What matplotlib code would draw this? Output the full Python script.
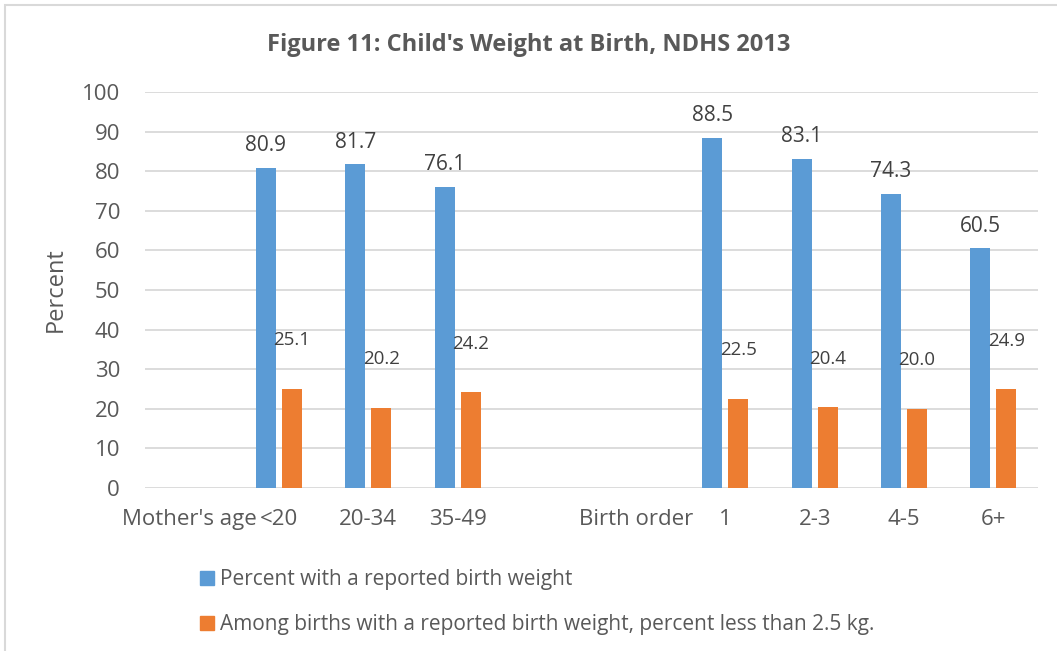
import matplotlib.pyplot as plt
import matplotlib.patches as mpatches
import numpy as np

# datos
categorias = ["Mother's age", "<20", "20-34", "35-49", "", "Birth order", "1", "2-3", "4-5", "6+"]
con_peso   = [np.nan, 80.9, 81.7, 76.1, np.nan, np.nan, 88.5, 83.1, 74.3, 60.5]
bajo_peso  = [np.nan, 25.1, 20.2, 24.2, np.nan, np.nan, 22.5, 20.4, 20.0, 24.9]
series     = ["Percent with a reported birth weight",
              "Among births with a reported birth weight, percent less than 2.5 kg."]

azul    = "#5b9bd5"
naranja = "#ed7d31"
gris    = "#595959"

plt.rcParams['font.family'] = ['Open Sans', 'DejaVu Sans']

fig = plt.figure(figsize=(10.57, 6.51), dpi=100)
ax = fig.add_axes([145/1057, 1 - 488/651, (1038-145)/1057, (488-92)/651])

x = np.arange(len(categorias))
ancho = 0.224
sep = 0.146

ax.bar(x - sep, con_peso, ancho, color=azul, label=series[0], zorder=3)
ax.bar(x + sep, bajo_peso, ancho, color=naranja, label=series[1], zorder=3)

for xi, v in zip(x, con_peso):
    if not np.isnan(v):
        ax.text(xi - sep, v + 3, f"{v:.1f}", ha="center", va="bottom", fontsize=15, color="#404040")
for xi, v in zip(x, bajo_peso):
    if not np.isnan(v):
        ax.text(xi + sep, v + 10, f"{v:.1f}", ha="center", va="bottom", fontsize=13.5, color="#404040")

ax.set_xlim(-0.5, len(categorias) - 0.5)
ax.set_ylim(0, 100)
ax.set_yticks(range(0, 101, 10))
ax.set_xticks(x)
ax.set_xticklabels(categorias)
ax.tick_params(axis="both", length=0, labelsize=16, colors=gris)
ax.tick_params(axis="x", pad=15)
ax.tick_params(axis="y", pad=18)
ax.grid(axis="y", color="#d9d9d9", linewidth=1.3, zorder=0)
for s in ax.spines.values():
    s.set_visible(False)
ax.set_ylabel("Percent", fontsize=17, color=gris, labelpad=10)

fig.text(0.5, 1 - 45/651, "Figure 11: Child's Weight at Birth, NDHS 2013",
         ha="center", va="center", fontsize=17, fontweight="bold", color=gris)

# leyenda en dos filas
handles = [mpatches.Patch(color=azul), mpatches.Patch(color=naranja)]
fig.legend(handles, series, loc="upper left", bbox_to_anchor=(200/1057, 1 - 569/651),
           frameon=False, fontsize=15, labelcolor=gris, handlelength=0.68, handleheight=0.68,
           handletextpad=0.3, labelspacing=1.15, borderaxespad=0, borderpad=0)

# marco del grafico
fig.patches.append(mpatches.Rectangle((5/1057, -0.02), 1.02, 1 - 5/651 + 0.02,
                                      transform=fig.transFigure, fill=False,
                                      edgecolor="#d9d9d9", linewidth=1.5))

fig.savefig("out.png", dpi=100)
